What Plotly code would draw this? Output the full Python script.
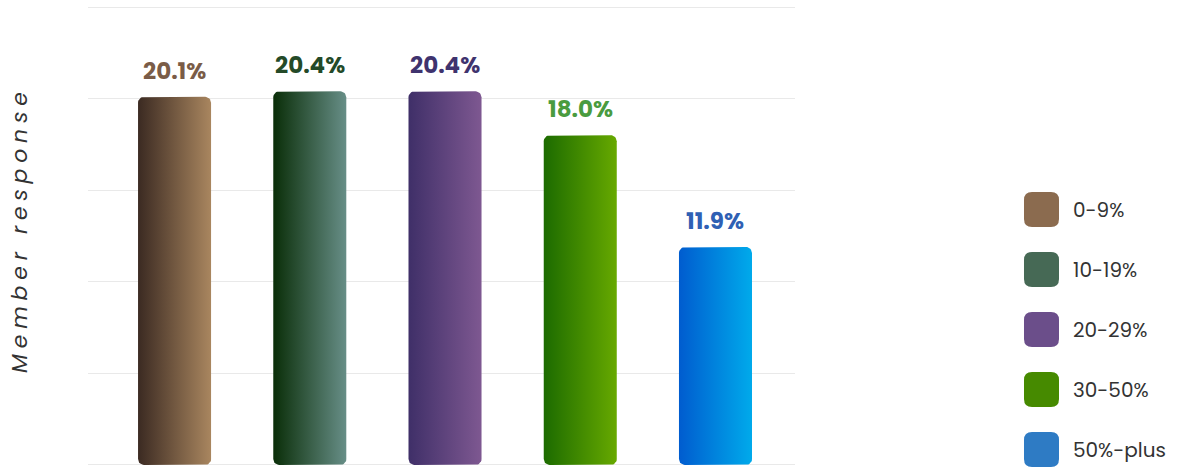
import math
import plotly.graph_objects as go

# ---------------- data ----------------
categories = ["0-9%", "10-19%", "20-29%", "30-50%", "50%-plus"]
values = [20.1, 20.4, 20.4, 18.0, 11.9]
grad_left = ["#3b2a22", "#0a2e08", "#3f2f68", "#1c6b00", "#005ccf"]
grad_right = ["#a9865f", "#678e87", "#7e5891", "#67a900", "#00aaeb"]
legend_colors = ["#8b6b4f", "#466955", "#6b4e8a", "#468a00", "#2e7bc4"]
label_colors = ["#7a5c47", "#244a28", "#3f336e", "#4a9b3f", "#2f60b4"]
y_ticks = [0, 5, 10, 15, 20, 25]
y_title = "Member response"

# ---------------- layout constants ----------------
W, H = 1181, 470
M_L, M_R, M_T, M_B = 88, 386, 5, 3
X_RANGE = [-0.64, 4.588]
Y_RANGE = [-0.11, 25.11]
BAR_W = 0.54
R_PX = 6
PLOT_W = W - M_L - M_R
PLOT_H = H - M_T - M_B
PX_X = PLOT_W / (X_RANGE[1] - X_RANGE[0])
PX_Y = PLOT_H / (Y_RANGE[1] - Y_RANGE[0])
FONT = "Poppins, Inter, sans-serif"


def rounded_bar(xc, v, n=8):
    x0, x1 = xc - BAR_W / 2, xc + BAR_W / 2
    rx, ry = R_PX / PX_X, R_PX / PX_Y
    corners = [
        (x0 + rx, ry, 180, 270),
        (x1 - rx, ry, 270, 360),
        (x1 - rx, v - ry, 0, 90),
        (x0 + rx, v - ry, 90, 180),
    ]
    xs, ys = [], []
    for cx, cy, a0, a1 in corners:
        for k in range(n + 1):
            a = math.radians(a0 + (a1 - a0) * k / n)
            xs.append(cx + rx * math.cos(a))
            ys.append(cy + ry * math.sin(a))
    xs.append(xs[0])
    ys.append(ys[0])
    return xs, ys


fig = go.Figure()

for i, (cat, v) in enumerate(zip(categories, values)):
    xs, ys = rounded_bar(i, v)
    fig.add_trace(go.Scatter(
        x=xs, y=ys, mode="lines", fill="toself",
        line=dict(width=0, color="rgba(0,0,0,0)"),
        fillgradient=dict(type="horizontal",
                          colorscale=[[0, grad_left[i]], [1, grad_right[i]]]),
        name=cat, showlegend=False, hoverinfo="skip",
    ))
    fig.add_annotation(
        x=i, y=v, xref="x", yref="y", text=f"{v:.1f}%", showarrow=False,
        yanchor="middle", yshift=26,
        font=dict(family=FONT, size=23, color=label_colors[i], weight=700),
    )


def px_to_paper(px, py):
    return (px - M_L) / PLOT_W, (H - M_B - py) / PLOT_H


def rounded_rect_path(px0, py0, size, r):
    x0, y0 = px0, py0
    x1, y1 = px0 + size, py0 + size

    def p(a, b):
        u, w = px_to_paper(a, b)
        return f"{u:.5f},{w:.5f}"
    return (f"M {p(x0 + r, y0)} L {p(x1 - r, y0)} Q {p(x1, y0)} {p(x1, y0 + r)} "
            f"L {p(x1, y1 - r)} Q {p(x1, y1)} {p(x1 - r, y1)} "
            f"L {p(x0 + r, y1)} Q {p(x0, y1)} {p(x0, y1 - r)} "
            f"L {p(x0, y0 + r)} Q {p(x0, y0)} {p(x0 + r, y0)} Z")


LEG_X, LEG_Y0, LEG_STEP, LEG_SIZE = 1024, 192, 60, 35
for i, cat in enumerate(categories):
    top = LEG_Y0 + i * LEG_STEP
    fig.add_shape(type="path", xref="paper", yref="paper",
                  path=rounded_rect_path(LEG_X, top, LEG_SIZE, 8),
                  fillcolor=legend_colors[i], line=dict(width=0))
    tx, ty = px_to_paper(LEG_X + 47, top + LEG_SIZE / 2)
    fig.add_annotation(x=tx, y=ty, xref="paper", yref="paper", text=cat,
                       showarrow=False, xanchor="left", yanchor="middle",
                       font=dict(family=FONT, size=20, color="#333333"))

# y-axis title with wide letter spacing
SEP = "\u2009\u200a"
spaced = SEP.join(list(y_title)).replace(SEP + " " + SEP, " " + SEP + SEP)
tx, ty = px_to_paper(19, 233)
fig.add_annotation(x=tx, y=ty, xref="paper", yref="paper", text=spaced,
                   showarrow=False, textangle=-90, xanchor="center", yanchor="middle",
                   font=dict(family=FONT, size=22, color="#333333", style="italic"))

fig.update_layout(
    width=W, height=H,
    margin=dict(l=M_L, r=M_R, t=M_T, b=M_B),
    paper_bgcolor="white", plot_bgcolor="white",
    showlegend=False,
    xaxis=dict(range=X_RANGE, showgrid=False, zeroline=False, showticklabels=False,
               showline=False, fixedrange=True),
    yaxis=dict(range=Y_RANGE, tickvals=y_ticks, showticklabels=False, gridcolor="#e9e9e9",
               gridwidth=1, zeroline=False, showline=False, fixedrange=True),
)

fig.write_html("out.html", config={"displayModeBar": False},
               post_script="document.body.style.margin='0';")
